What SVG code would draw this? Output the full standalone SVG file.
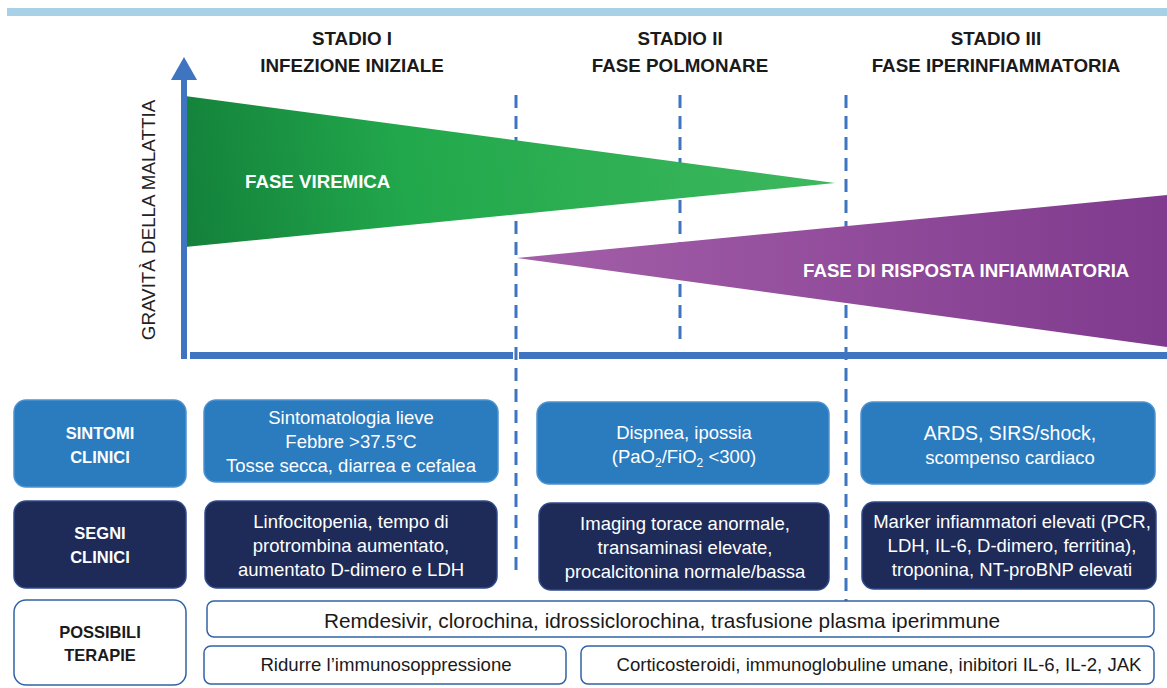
<svg xmlns="http://www.w3.org/2000/svg" width="1167" height="688" viewBox="0 0 1167 688">
<defs>
<linearGradient id="gGreen" x1="185" y1="240" x2="835" y2="150" gradientUnits="userSpaceOnUse">
<stop offset="0" stop-color="#13803a"/>
<stop offset="0.35" stop-color="#22a84c"/>
<stop offset="1" stop-color="#3db85e"/>
</linearGradient>
<linearGradient id="gPurple" x1="517" y1="0" x2="1167" y2="0" gradientUnits="userSpaceOnUse">
<stop offset="0" stop-color="#a45fa9"/>
<stop offset="1" stop-color="#803a8e"/>
</linearGradient>
<style>
.hd{font-family:"Liberation Sans",Arial,sans-serif;font-weight:bold;font-size:18.8px;fill:#1a1a1a;text-anchor:middle}
.ph{font-family:"Liberation Sans",Arial,sans-serif;font-weight:bold;font-size:18.7px;fill:#ffffff}
.lbl{font-family:"Liberation Sans",Arial,sans-serif;font-weight:bold;font-size:16.5px;text-anchor:middle}
.bt{font-family:"Liberation Sans",Arial,sans-serif;font-size:18.5px;fill:#ffffff;text-anchor:middle}
.tt{font-family:"Liberation Sans",Arial,sans-serif;font-size:18.6px;fill:#1a1a1a;text-anchor:middle}
.light{fill:#2b7bbf;stroke:#4d92d0;stroke-width:1.5}
.dark{fill:#1e2b58;stroke:#2f4a8a;stroke-width:1.5}
.white{fill:#ffffff;stroke:#2f62a6;stroke-width:1.5}
.dash{stroke:#3f74c0;stroke-width:3;stroke-dasharray:13 8;fill:none}
.axis{fill:#3f74c0}
</style>
</defs>
<rect x="7" y="8" width="1160" height="8" fill="#a8d0e6"/>
<g id="headers">
<text class="hd" x="352" y="45">STADIO I</text>
<text class="hd" x="352" y="72">INFEZIONE INIZIALE</text>
<text class="hd" x="680" y="45">STADIO II</text>
<text class="hd" x="680" y="72">FASE POLMONARE</text>
<text class="hd" x="996" y="45">STADIO III</text>
<text class="hd" x="996" y="72">FASE IPERINFIAMMATORIA</text>
</g>
<g id="connectors">
<line class="dash" x1="516" y1="95" x2="516" y2="572"/>
<line class="dash" x1="680" y1="95" x2="680" y2="340"/>
<line class="dash" x1="846" y1="95" x2="846" y2="604"/>
</g>
<g id="phase-viremic">
<polygon points="185,96 835,183 185,247" fill="url(#gGreen)"/>
<text class="ph" x="245" y="188">FASE VIREMICA</text>
</g>
<g id="phase-inflammatory">
<polygon points="517,258 1167,195 1167,347" fill="url(#gPurple)"/>
<text class="ph" x="803" y="277">FASE DI RISPOSTA INFIAMMATORIA</text>
</g>
<g id="axes">
<rect class="axis" x="181" y="78" width="6" height="281"/>
<polygon class="axis" points="171,80 184,57 197,80"/>
<rect class="axis" x="190" y="352" width="323" height="7"/>
<rect class="axis" x="519" y="352" width="648" height="7"/>
<text x="0" y="0" transform="translate(155,220) rotate(-90)" style="font-family:'Liberation Sans',Arial,sans-serif;font-size:18.8px;fill:#222;text-anchor:middle">GRAVITÀ DELLA MALATTIA</text>
</g>
<g id="sintomi-label">
<rect class="light" x="14" y="400" width="172" height="87" rx="12"/>
<text class="lbl" x="100" y="439" fill="#fff">SINTOMI</text>
<text class="lbl" x="100" y="463" fill="#fff">CLINICI</text>
</g>
<g id="sintomi-1">
<rect class="light" x="204" y="400" width="294" height="82" rx="12"/>
<text class="bt" x="351" y="424">Sintomatologia lieve</text>
<text class="bt" x="351" y="448">Febbre &gt;37.5°C</text>
<text class="bt" x="351" y="472">Tosse secca, diarrea e cefalea</text>
</g>
<g id="sintomi-2">
<rect class="light" x="537" y="402" width="292" height="82" rx="12"/>
<text class="bt" x="684" y="439">Dispnea, ipossia</text>
<text class="bt" x="684" y="463">(PaO<tspan font-size="12" dy="4">2</tspan><tspan dy="-4">/FiO</tspan><tspan font-size="12" dy="4">2</tspan><tspan dy="-4"> &lt;300)</tspan></text>
</g>
<g id="sintomi-3">
<rect class="light" x="861" y="402" width="294" height="82" rx="12"/>
<text class="bt" x="1010" y="440" style="font-size:19.5px">ARDS, SIRS/shock,</text>
<text class="bt" x="1010" y="464">scompenso cardiaco</text>
</g>
<g id="segni-label">
<rect class="dark" x="14" y="501" width="172" height="87" rx="12"/>
<text class="lbl" x="100" y="539" fill="#fff">SEGNI</text>
<text class="lbl" x="100" y="563" fill="#fff">CLINICI</text>
</g>
<g id="segni-1">
<rect class="dark" x="205" y="501" width="292" height="87" rx="12"/>
<text class="bt" x="351" y="528">Linfocitopenia, tempo di</text>
<text class="bt" x="351" y="552">protrombina aumentato,</text>
<text class="bt" x="351" y="576">aumentato D-dimero e LDH</text>
</g>
<g id="segni-2">
<rect class="dark" x="539" y="503" width="290" height="87" rx="12"/>
<text class="bt" x="685" y="530">Imaging torace anormale,</text>
<text class="bt" x="685" y="554">transaminasi elevate,</text>
<text class="bt" x="685" y="578">procalcitonina normale/bassa</text>
</g>
<g id="segni-3">
<rect class="dark" x="862" y="502" width="294" height="87" rx="12"/>
<text class="bt" x="1012" y="528">Marker infiammatori elevati (PCR,</text>
<text class="bt" x="1012" y="552">LDH, IL-6, D-dimero, ferritina),</text>
<text class="bt" x="1012" y="576">troponina, NT-proBNP elevati</text>
</g>
<g id="terapie-label">
<rect class="white" x="14" y="600" width="172" height="85" rx="12"/>
<text class="lbl" x="100" y="638" fill="#1a1a1a">POSSIBILI</text>
<text class="lbl" x="100" y="661" fill="#1a1a1a">TERAPIE</text>
</g>
<g id="terapia-1">
<rect class="white" x="207" y="601" width="947" height="36" rx="7"/>
<text class="tt" x="662" y="628" style="font-size:20.8px">Remdesivir, clorochina, idrossiclorochina, trasfusione plasma iperimmune</text>
</g>
<g id="terapia-2">
<rect class="white" x="204" y="646" width="362" height="38" rx="7"/>
<text class="tt" x="386" y="671">Ridurre l’immunosoppressione</text>
</g>
<g id="terapia-3">
<rect class="white" x="581" y="646" width="573" height="38" rx="7"/>
<text class="tt" x="879" y="671">Corticosteroidi, immunoglobuline umane, inibitori IL-6, IL-2, JAK</text>
</g>
</svg>
